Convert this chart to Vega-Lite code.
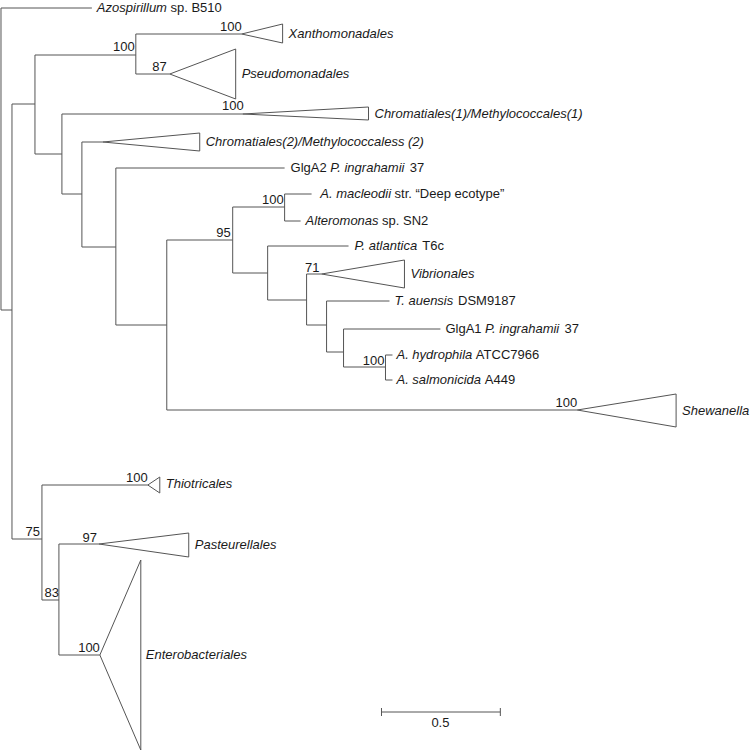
{
  "$schema": "https://vega.github.io/schema/vega-lite/v6.json",
  "width": 750,
  "height": 752,
  "autosize": {"type": "fit", "contains": "padding"},
  "padding": 0,
  "background": "white",
  "config": {"view": {"stroke": null}},
  "datasets": {
    "segs": [
      {"x":1,"y":8,"x2":92,"y2":8},
      {"x":1,"y":8,"x2":1,"y2":310},
      {"x":1,"y":310,"x2":12,"y2":310},
      {"x":12,"y":104,"x2":12,"y2":539},
      {"x":12,"y":104,"x2":35,"y2":104},
      {"x":35,"y":55,"x2":35,"y2":154},
      {"x":35,"y":55,"x2":136,"y2":55},
      {"x":136,"y":34,"x2":136,"y2":74},
      {"x":136,"y":34,"x2":242,"y2":34},
      {"x":136,"y":74,"x2":170,"y2":74},
      {"x":242,"y":34,"x2":283,"y2":24},
      {"x":242,"y":34,"x2":283,"y2":43},
      {"x":283,"y":24,"x2":283,"y2":43},
      {"x":170,"y":74,"x2":236,"y2":49},
      {"x":170,"y":74,"x2":236,"y2":99},
      {"x":236,"y":49,"x2":236,"y2":99},
      {"x":35,"y":154,"x2":62,"y2":154},
      {"x":62,"y":114,"x2":62,"y2":194},
      {"x":62,"y":114,"x2":243,"y2":114},
      {"x":243,"y":114,"x2":369,"y2":107},
      {"x":243,"y":114,"x2":369,"y2":120},
      {"x":369,"y":107,"x2":369,"y2":120},
      {"x":62,"y":194,"x2":82,"y2":194},
      {"x":82,"y":142,"x2":82,"y2":247},
      {"x":82,"y":142,"x2":103,"y2":142},
      {"x":103,"y":142,"x2":200,"y2":133},
      {"x":103,"y":142,"x2":200,"y2":151},
      {"x":200,"y":133,"x2":200,"y2":151},
      {"x":82,"y":247,"x2":116,"y2":247},
      {"x":116,"y":168,"x2":116,"y2":325},
      {"x":116,"y":168,"x2":285,"y2":168},
      {"x":116,"y":325,"x2":167,"y2":325},
      {"x":167,"y":240,"x2":167,"y2":410},
      {"x":167,"y":240,"x2":233,"y2":240},
      {"x":167,"y":410,"x2":578,"y2":410},
      {"x":578,"y":410,"x2":677,"y2":394},
      {"x":578,"y":410,"x2":677,"y2":427},
      {"x":677,"y":394,"x2":677,"y2":427},
      {"x":233,"y":207,"x2":233,"y2":273},
      {"x":233,"y":207,"x2":285,"y2":207},
      {"x":285,"y":194,"x2":285,"y2":221},
      {"x":285,"y":194,"x2":312,"y2":194},
      {"x":285,"y":221,"x2":301,"y2":221},
      {"x":233,"y":273,"x2":268,"y2":273},
      {"x":268,"y":246,"x2":268,"y2":300},
      {"x":268,"y":246,"x2":349,"y2":246},
      {"x":268,"y":300,"x2":307,"y2":300},
      {"x":307,"y":274,"x2":307,"y2":325},
      {"x":307,"y":274,"x2":322,"y2":274},
      {"x":322,"y":274,"x2":405,"y2":260},
      {"x":322,"y":274,"x2":405,"y2":288},
      {"x":405,"y":260,"x2":405,"y2":288},
      {"x":307,"y":325,"x2":327,"y2":325},
      {"x":327,"y":301,"x2":327,"y2":352},
      {"x":327,"y":301,"x2":390,"y2":301},
      {"x":327,"y":352,"x2":344,"y2":352},
      {"x":344,"y":329,"x2":344,"y2":367},
      {"x":344,"y":329,"x2":441,"y2":329},
      {"x":344,"y":367,"x2":386,"y2":367},
      {"x":386,"y":355,"x2":386,"y2":380},
      {"x":386,"y":355,"x2":393,"y2":355},
      {"x":386,"y":380,"x2":393,"y2":380},
      {"x":12,"y":539,"x2":42,"y2":539},
      {"x":42,"y":485,"x2":42,"y2":600},
      {"x":42,"y":485,"x2":148,"y2":485},
      {"x":148,"y":485,"x2":160,"y2":477},
      {"x":148,"y":485,"x2":160,"y2":493},
      {"x":160,"y":477,"x2":160,"y2":493},
      {"x":42,"y":600,"x2":59,"y2":600},
      {"x":59,"y":544,"x2":59,"y2":655},
      {"x":59,"y":544,"x2":99,"y2":544},
      {"x":99,"y":544,"x2":189,"y2":533},
      {"x":99,"y":544,"x2":189,"y2":557},
      {"x":189,"y":533,"x2":189,"y2":557},
      {"x":59,"y":655,"x2":100,"y2":655},
      {"x":100,"y":655,"x2":141,"y2":560},
      {"x":100,"y":655,"x2":141,"y2":750},
      {"x":141,"y":560,"x2":141,"y2":750},
      {"x":382,"y":712,"x2":501,"y2":712},
      {"x":382,"y":708,"x2":382,"y2":716},
      {"x":501,"y":708,"x2":501,"y2":716}
    ],
    "ital": [
      {"x":97,"y":8,"label":"Azospirillum"},
      {"x":289,"y":34,"label":"Xanthomonadales"},
      {"x":242,"y":74,"label":"Pseudomonadales"},
      {"x":375,"y":114,"label":"Chromatiales(1)/Methylococcales(1)"},
      {"x":206,"y":142,"label":"Chromatiales(2)/Methylococcaless (2)"},
      {"x":330.7,"y":168,"label":"P. ingrahamii"},
      {"x":320.7,"y":194,"label":"A. macleodii"},
      {"x":306,"y":221,"label":"Alteromonas"},
      {"x":355,"y":246,"label":"P. atlantica"},
      {"x":411,"y":274,"label":"Vibrionales"},
      {"x":395,"y":301,"label":"T. auensis"},
      {"x":485.7,"y":329,"label":"P. ingrahamii"},
      {"x":397,"y":355,"label":"A. hydrophila"},
      {"x":397,"y":380,"label":"A. salmonicida"},
      {"x":683,"y":411,"label":"Shewanella"},
      {"x":166,"y":484,"label":"Thiotricales"},
      {"x":195,"y":545,"label":"Pasteurellales"},
      {"x":146,"y":655,"label":"Enterobacteriales"}
    ],
    "norm": [
      {"x":170.7,"y":8,"label":"sp. B510"},
      {"x":291,"y":168,"label":"GlgA2"},
      {"x":410.2,"y":168,"label":"37"},
      {"x":395.1,"y":194,"label":"str. “Deep ecotype”"},
      {"x":382.6,"y":221,"label":"sp. SN2"},
      {"x":422.9,"y":246,"label":"T6c"},
      {"x":458.6,"y":301,"label":"DSM9187"},
      {"x":446,"y":329,"label":"GlgA1"},
      {"x":565.2,"y":329,"label":"37"},
      {"x":476.5,"y":355,"label":"ATCC7966"},
      {"x":485.5,"y":380,"label":"A449"}
    ],
    "boot": [
      {"x":135,"y":51,"label":"100"},
      {"x":242,"y":31,"label":"100"},
      {"x":167,"y":71,"label":"87"},
      {"x":244,"y":110,"label":"100"},
      {"x":231,"y":237,"label":"95"},
      {"x":284,"y":204,"label":"100"},
      {"x":320,"y":272,"label":"71"},
      {"x":385,"y":365,"label":"100"},
      {"x":578,"y":407,"label":"100"},
      {"x":148,"y":482,"label":"100"},
      {"x":40,"y":536,"label":"75"},
      {"x":97,"y":542,"label":"97"},
      {"x":59,"y":597,"label":"83"},
      {"x":100,"y":652,"label":"100"}
    ],
    "scalelab": [
      {"x":441,"y":727,"label":"0.5"}
    ]
  },
  "layer": [
    {
      "data": {"name": "segs"},
      "mark": {"type": "rule", "color": "#555555", "strokeWidth": 1},
      "encoding": {
        "x": {"field": "x", "type": "quantitative", "scale": {"domain": [0, 750], "nice": false, "zero": false}, "axis": null},
        "y": {"field": "y", "type": "quantitative", "scale": {"domain": [0, 752], "nice": false, "zero": false, "reverse": true}, "axis": null},
        "x2": {"field": "x2"},
        "y2": {"field": "y2"}
      }
    },
    {
      "data": {"name": "ital"},
      "mark": {"type": "text", "align": "left", "baseline": "middle", "font": "Liberation Sans", "fontSize": 13, "fontStyle": "italic", "color": "#1a1a1a"},
      "encoding": {
        "x": {"field": "x", "type": "quantitative"},
        "y": {"field": "y", "type": "quantitative"},
        "text": {"field": "label"}
      }
    },
    {
      "data": {"name": "norm"},
      "mark": {"type": "text", "align": "left", "baseline": "middle", "font": "Liberation Sans", "fontSize": 13, "color": "#1a1a1a"},
      "encoding": {
        "x": {"field": "x", "type": "quantitative"},
        "y": {"field": "y", "type": "quantitative"},
        "text": {"field": "label"}
      }
    },
    {
      "data": {"name": "boot"},
      "mark": {"type": "text", "align": "right", "baseline": "alphabetic", "font": "Liberation Sans", "fontSize": 13, "color": "#1a1a1a"},
      "encoding": {
        "x": {"field": "x", "type": "quantitative"},
        "y": {"field": "y", "type": "quantitative"},
        "text": {"field": "label"}
      }
    },
    {
      "data": {"name": "scalelab"},
      "mark": {"type": "text", "align": "center", "baseline": "alphabetic", "font": "Liberation Sans", "fontSize": 13, "color": "#1a1a1a"},
      "encoding": {
        "x": {"field": "x", "type": "quantitative"},
        "y": {"field": "y", "type": "quantitative"},
        "text": {"field": "label"}
      }
    }
  ]
}
